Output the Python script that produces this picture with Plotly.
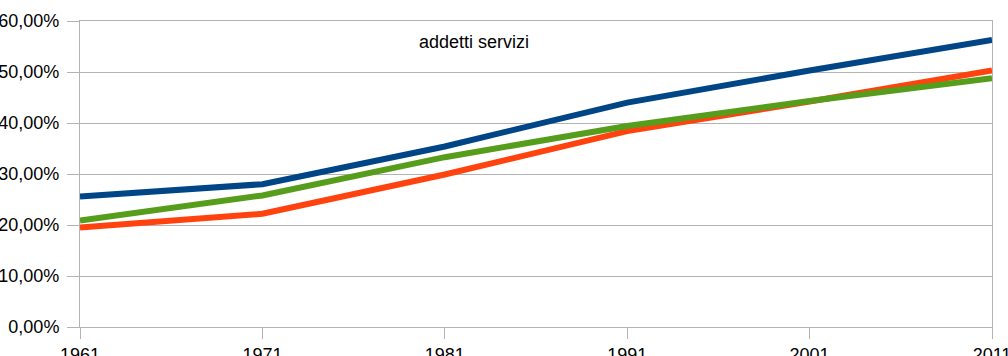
import plotly.graph_objects as go

years = [1961, 1971, 1981, 1991, 2001, 2011]
series_blue = [25.6, 28.0, 35.4, 44.0, 50.3, 56.3]
series_orange = [19.5, 22.2, 29.9, 38.4, 44.2, 50.3]
series_green = [20.9, 25.8, 33.3, 39.4, 44.3, 48.8]
y_ticks = [0, 10, 20, 30, 40, 50, 60]
y_labels = ["0,00%", "10,00%", "20,00%", "30,00%", "40,00%", "50,00%", "60,00%"]
title_text = "addetti servizi"

fig = go.Figure()
for vals, col in [(series_blue, "#004586"), (series_orange, "#ff420e"), (series_green, "#579d1c")]:
    fig.add_trace(go.Scatter(x=years, y=vals, mode="lines",
                             line=dict(color=col, width=6), showlegend=False))

fig.add_annotation(text=title_text, xref="paper", yref="paper",
                   x=(474 - 80) / 912, y=(326.7 - 42) / 306,
                   xanchor="center", yanchor="middle", showarrow=False,
                   font=dict(family="Liberation Sans", size=18, color="#000000"))

grid = "#b3b3b3"
fig.update_layout(
    width=1008, height=356,
    margin=dict(l=80, r=16, t=20.7, b=29.3, autoexpand=False),
    paper_bgcolor="white", plot_bgcolor="white",
    font=dict(family="Liberation Sans", size=18, color="#000000"),
    xaxis=dict(range=[1961, 2011], tickvals=years, ticktext=[str(y) for y in years],
               showgrid=False, automargin=False, ticklabeloverflow="allow",
               showline=True, linecolor=grid, linewidth=1, mirror=True,
               ticks="outside", ticklen=11, tickcolor=grid, zeroline=False,
               tickfont=dict(size=18)),
    yaxis=dict(range=[0, 60], tickvals=y_ticks, ticktext=y_labels,
               automargin=False, ticklabeloverflow="allow", ticklabelstandoff=4,
               showgrid=True, gridcolor=grid, gridwidth=1,
               showline=True, linecolor=grid, linewidth=1, mirror=True,
               ticks="outside", ticklen=12, tickcolor=grid, zeroline=False,
               tickfont=dict(size=18)),
)
fig.write_html("out.html", config={"displayModeBar": False},
               post_script="document.body.style.margin='0';")
